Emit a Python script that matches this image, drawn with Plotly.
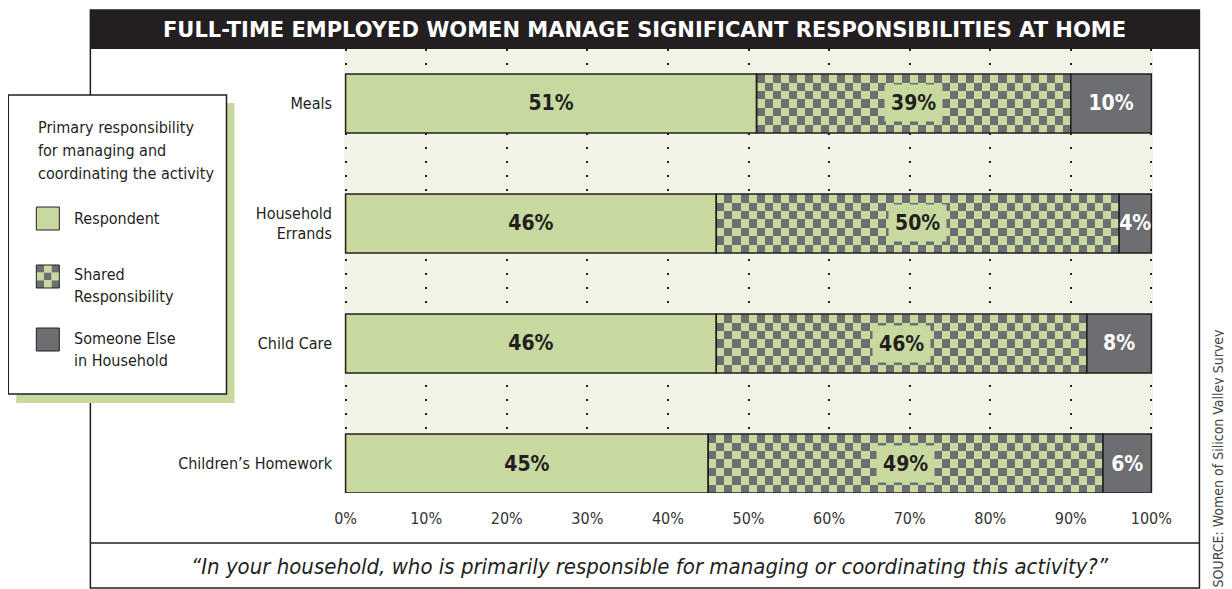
import plotly.graph_objects as go

# --- data
categories = ["Meals", "Household<br>Errands", "Child Care", "Children’s Homework"]
respondent = [51, 46, 46, 45]
shared = [39, 50, 46, 49]
someone_else = [10, 4, 8, 6]
x_ticks = [0, 10, 20, 30, 40, 50, 60, 70, 80, 90, 100]
x_tick_labels = ["0%", "10%", "20%", "30%", "40%", "50%", "60%", "70%", "80%", "90%", "100%"]

title = "FULL-TIME EMPLOYED WOMEN MANAGE SIGNIFICANT RESPONSIBILITIES AT HOME"
question = "“In your household, who is primarily responsible for managing or coordinating this activity?”"
source = "SOURCE: Women of Silicon Valley Survey"
legend_title = ["Primary responsibility", "for managing and", "coordinating the activity"]
legend_labels = [["Respondent"], ["Shared", "Responsibility"], ["Someone Else", "in Household"]]

# --- styling
GREEN = "#c8d9a0"
GRAY = "#6d6e71"
DARK = "#231f20"
CREAM = "#f3f4e8"
NARROW = "Liberation Sans Narrow, DejaVu Sans Condensed, Arial Narrow, sans-serif"

# page body has an 8px margin, so the figure is drawn 8px in from the window corner
OFF = 8
W, H = 1232, 589
X_PAD = 0.2
L, R, T, B = 346 - X_PAD * 8.05, 1151 + X_PAD * 8.05, 49, 493  # plot area (window pixels)
BAR_W = 0.49


def px(x):
    return (x - L) / (R - L)


def py(y):
    return (B - y) / (B - T)


ypos = [len(categories) - 1 - i for i in range(len(categories))]
base_else = [r + s for r, s in zip(respondent, shared)]

fig = go.Figure()

# --- checkerboard texture for the shared segments (heatmaps sit below bars)
for yc, r, s in zip(ypos, respondent, shared):
    rows = 7
    x_edges = list(range(0, 101))
    y_edges = [yc - BAR_W / 2 + k * BAR_W / rows for k in range(rows + 1)]
    z = [[((i + j) % 2 if r <= i < r + s else None) for i in range(100)] for j in range(rows)]
    fig.add_trace(
        go.Heatmap(
            x=x_edges, y=y_edges, z=z,
            zmin=0, zmax=1,
            colorscale=[[0, GREEN], [1, GRAY]],
            showscale=False, hoverinfo="skip",
        )
    )

# --- bars
fig.add_trace(
    go.Bar(
        y=ypos, x=respondent, base=[0] * len(respondent), orientation="h", width=BAR_W,
        marker=dict(color=GREEN, line=dict(color=DARK, width=1.5)),
        text=[f"{v}%" for v in respondent], textposition="inside", insidetextanchor="middle",
        constraintext="none", textangle=0,
        textfont=dict(family=NARROW, size=21, color=DARK, weight="bold"),
        hoverinfo="skip",
    )
)
fig.add_trace(
    go.Bar(
        y=ypos, x=shared, base=respondent, orientation="h", width=BAR_W,
        marker=dict(color="rgba(0,0,0,0)", line=dict(color=DARK, width=1.5)),
        hoverinfo="skip",
    )
)
fig.add_trace(
    go.Bar(
        y=ypos, x=someone_else, base=base_else, orientation="h", width=BAR_W,
        marker=dict(color=GRAY, line=dict(color=DARK, width=1.5)),
        text=[f"{v}%" for v in someone_else], textposition="inside", insidetextanchor="middle",
        constraintext="none", textangle=0,
        textfont=dict(family=NARROW, size=21, color="white", weight="bold"),
        hoverinfo="skip",
    )
)

annotations = []
# shared labels with a plain green patch behind them
for yc, r, s in zip(ypos, respondent, shared):
    annotations.append(dict(
        x=r + s / 2, y=yc, xref="x", yref="y", text=f"<b>{s}%</b>", showarrow=False,
        xanchor="center", yanchor="middle",
        font=dict(family=NARROW, size=21, color=DARK), bgcolor=GREEN, borderpad=6,
    ))

# --- frame, title bar, footer
shapes = [
    dict(type="rect", xref="paper", yref="paper", x0=px(91), x1=px(1199), y0=py(10), y1=py(588),
         line=dict(color=DARK, width=1.5)),
    dict(type="rect", xref="paper", yref="paper", x0=px(91), x1=px(1199), y0=py(10), y1=py(49),
         fillcolor=DARK, line=dict(width=0)),
    dict(type="line", xref="paper", yref="paper", x0=px(91), x1=px(1199), y0=py(543), y1=py(543),
         line=dict(color=DARK, width=1.5)),
    # legend box with green drop shadow
    dict(type="rect", xref="paper", yref="paper", x0=px(17), x1=px(235), y0=py(103), y1=py(403),
         fillcolor=GREEN, line=dict(width=0)),
    dict(type="rect", xref="paper", yref="paper", x0=px(9), x1=px(227), y0=py(95), y1=py(394),
         fillcolor="white", line=dict(color=DARK, width=1.5)),
    dict(type="rect", xref="paper", yref="paper", x0=px(37), x1=px(60), y0=py(207), y1=py(230),
         fillcolor=GREEN, line=dict(color=DARK, width=1)),
    dict(type="rect", xref="paper", yref="paper", x0=px(37), x1=px(60), y0=py(328), y1=py(351),
         fillcolor=GRAY, line=dict(color=DARK, width=1)),
]
# small checker swatch
cell = 23 / 3
for i in range(3):
    for j in range(3):
        shapes.append(dict(
            type="rect", xref="paper", yref="paper",
            x0=px(37 + i * cell), x1=px(37 + (i + 1) * cell),
            y0=py(265 + j * cell), y1=py(265 + (j + 1) * cell),
            fillcolor=GRAY if (i + j) % 2 == 0 else GREEN, line=dict(width=0),
        ))
shapes.append(dict(type="rect", xref="paper", yref="paper", x0=px(37), x1=px(60), y0=py(265), y1=py(288),
                   line=dict(color=DARK, width=1)))


def note(x, y, text, font, **kw):
    d = dict(x=px(x), y=py(y), xref="paper", yref="paper", text=text, showarrow=False,
             xanchor="center", yanchor="middle", font=font)
    d.update(kw)
    annotations.append(d)


note(645, 30, title, dict(family="DejaVu Sans, sans-serif", size=21, color="white", weight="bold"))
note(650, 566, f"<i>{question}</i>", dict(family=NARROW, size=22, color=DARK))
note(1218, 458, source, dict(family=NARROW, size=14, color="#444444"), textangle=-90)
for k, line in enumerate(legend_title):
    note(37, 128 + k * 22.5, line, dict(family=NARROW, size=16, color=DARK), xanchor="left")
for lines, yc in zip(legend_labels, [218, 274, 338]):
    for k, line in enumerate(lines):
        note(73, yc + k * 22.5, line, dict(family=NARROW, size=16, color=DARK), xanchor="left")

fig.update_layout(
    width=W - OFF, height=H - OFF,
    margin=dict(l=L - OFF, r=W - R, t=T - OFF, b=H - B, pad=0),
    paper_bgcolor="white", plot_bgcolor=CREAM,
    barmode="overlay", showlegend=False,
    shapes=shapes, annotations=annotations,
    xaxis=dict(
        range=[-X_PAD, 100 + X_PAD], tickvals=x_ticks, ticktext=x_tick_labels,
        tickfont=dict(family=NARROW, size=16, color="#333333"),
        showgrid=True, gridcolor=DARK, gridwidth=2, griddash="2px,12px",
        zeroline=False, showline=False, ticklabelstandoff=14, fixedrange=True,
    ),
    yaxis=dict(
        range=[-0.2458, 3.454], tickvals=ypos, ticktext=categories,
        tickfont=dict(family=NARROW, size=16, color=DARK),
        showgrid=False, zeroline=False, showline=False, ticklabelstandoff=11, fixedrange=True,
    ),
)

fig.write_html("out.html")
